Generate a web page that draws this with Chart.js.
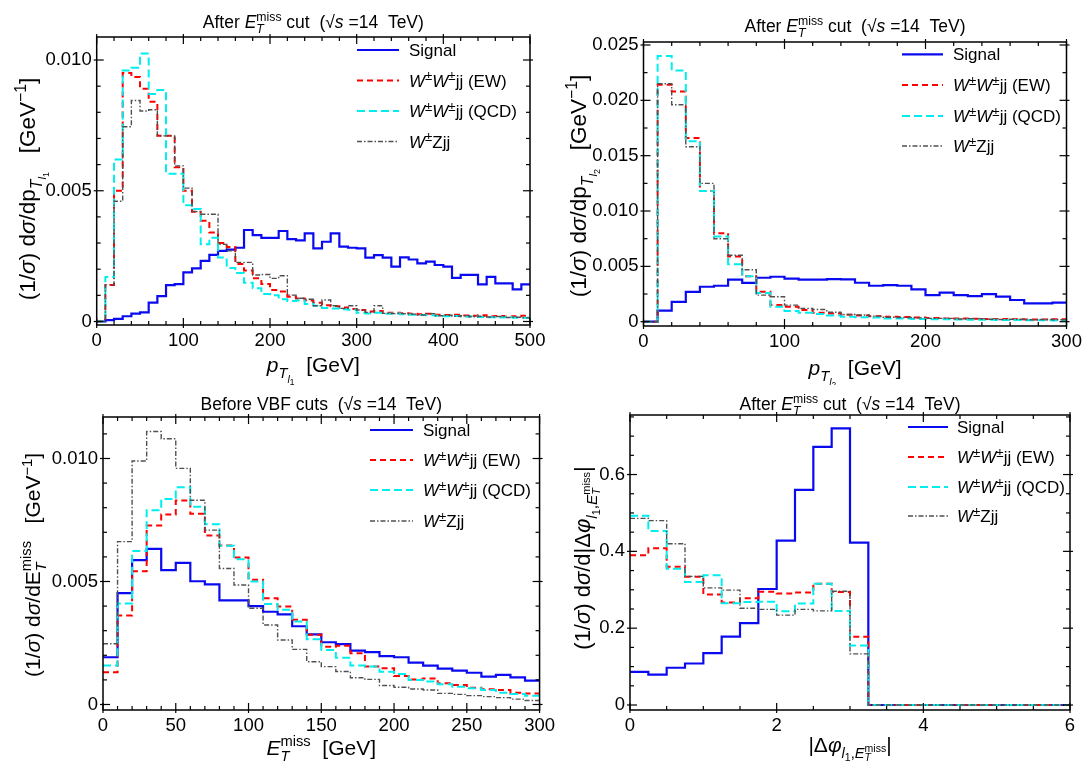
<!DOCTYPE html>
<html><head><meta charset="utf-8">
<script src="https://cdn.jsdelivr.net/npm/chart.js@4.4.1/dist/chart.umd.min.js"></script>
<style>
html,body{margin:0;padding:0;background:#fff;}
#wrap{position:relative;width:1089px;height:764px;overflow:hidden;background:#fff;}
canvas{position:absolute;}
</style></head><body>
<div id="wrap">
<canvas id="c1" width="560" height="385" style="left:0;top:0"></canvas>
<canvas id="c2" width="544" height="385" style="left:545px;top:0"></canvas>
<canvas id="c3" width="560" height="379" style="left:0;top:385px"></canvas>
<canvas id="c4" width="544" height="379" style="left:545px;top:385px"></canvas>
</div>
<script>
// ---------------- DATA ----------------
// Panel 1: p_T(l1), bins of 10 GeV from 0 to 500
const p1BinStart = 0, p1BinWidth = 10;
const p1Signal = [0,0.00005,0.0001,0.0002,0.0003,0.00035,0.00072,0.00097,0.00139,0.00143,
  0.00188,0.00203,0.00232,0.00255,0.0027,0.00275,0.00282,0.0035,0.0033,0.0032,
  0.0032,0.00346,0.00315,0.0031,0.00337,0.0028,0.00305,0.00337,0.00286,0.00282,
  0.0028,0.00244,0.00254,0.00244,0.0021,0.00245,0.00237,0.00222,0.00229,0.00216,
  0.0021,0.00167,0.00178,0.00178,0.00142,0.00171,0.00146,0.00146,0.00123,0.00142];
const p1EW = [0,0.0014,0.005,0.0095,0.00935,0.0089,0.0084,0.0071,0.0071,0.0059,
  0.005,0.0042,0.00385,0.0034,0.003,0.00285,0.0022,0.00195,0.00165,0.00143,
  0.0012,0.00115,0.00095,0.00088,0.0008,0.00072,0.00062,0.00058,0.00054,0.00048,
  0.00044,0.00038,0.0004,0.00033,0.00033,0.00032,0.0003,0.00028,0.0003,0.00026,
  0.00025,0.00026,0.00023,0.00022,0.00024,0.0002,0.00021,0.00019,0.0002,0.00022];
const p1QCD = [0,0.0017,0.0062,0.0096,0.0097,0.01025,0.0087,0.00885,0.00565,0.00565,
  0.00445,0.0043,0.00295,0.0032,0.00245,0.00205,0.00185,0.00148,0.00127,0.00105,
  0.001,0.00085,0.00078,0.0008,0.00067,0.0006,0.00052,0.0005,0.00047,0.00045,
  0.00033,0.00031,0.00033,0.0003,0.00031,0.00028,0.00026,0.00025,0.00024,0.00022,
  0.0002,0.00021,0.00018,0.0002,0.00017,0.00016,0.00015,0.00017,0.00014,0.00014];
const p1WZ = [0,0.0014,0.0046,0.00745,0.00845,0.00805,0.0081,0.0071,0.0071,0.00595,
  0.0051,0.0042,0.0041,0.0041,0.00295,0.0027,0.00226,0.00226,0.00178,0.0018,
  0.00165,0.00175,0.00101,0.00089,0.00085,0.0006,0.00082,0.0006,0.0005,0.0006,
  0.00044,0.00035,0.0006,0.00031,0.0003,0.0003,0.00028,0.00025,0.0003,0.00022,
  0.00024,0.0002,0.00022,0.00018,0.0002,0.00017,0.00019,0.00015,0.00016,0.00014];
const p1XTicks = [0,100,200,300,400,500];
const p1XLabels = ["0","100","200","300","400","500"];
const p1YTicks = [0,0.005,0.010];
const p1YLabels = ["0","0.005","0.010"];

// Panel 2: p_T(l2), bins of 10 GeV from 0 to 300
const p2BinStart = 0, p2BinWidth = 10;
const p2Signal = [0,0.001,0.0018,0.0027,0.00316,0.00325,0.0038,0.0035,0.00397,0.00406,
  0.0039,0.0038,0.0038,0.00385,0.00383,0.00352,0.00325,0.00331,0.00325,0.00292,
  0.00241,0.00262,0.00241,0.00232,0.0025,0.00226,0.00196,0.00166,0.00166,0.00172];
const p2EW = [0,0.0214,0.0208,0.0166,0.0118,0.008,0.0059,0.0041,0.0027,0.0015,
  0.00136,0.00105,0.0008,0.00075,0.00062,0.00055,0.0005,0.00045,0.00042,0.00038,
  0.00033,0.0003,0.0003,0.00027,0.00025,0.00024,0.00022,0.0002,0.0002,0.00022];
const p2QCD = [0,0.024,0.0227,0.0163,0.0118,0.0077,0.0052,0.0041,0.0026,0.00136,
  0.00096,0.0008,0.0007,0.00055,0.00045,0.0004,0.00038,0.0003,0.0003,0.00025,
  0.00022,0.00022,0.0002,0.00018,0.00018,0.00015,0.00015,0.00013,0.00014,0.00012];
const p2WZ = [0,0.0215,0.0196,0.0158,0.0125,0.0075,0.006,0.0047,0.0024,0.00226,
  0.0015,0.0012,0.0011,0.00085,0.00065,0.0006,0.0005,0.0004,0.00038,0.00035,
  0.0003,0.0003,0.00025,0.00028,0.00022,0.0002,0.00022,0.00018,0.0002,0.00017];
const p2XTicks = [0,100,200,300];
const p2XLabels = ["0","100","200","300"];
const p2YTicks = [0,0.005,0.010,0.015,0.020,0.025];
const p2YLabels = ["0","0.005","0.010","0.015","0.020","0.025"];

// Panel 3: E_T^miss before VBF cuts, bins of 10 GeV from 0 to 300
const p3BinStart = 0, p3BinWidth = 10;
const p3Signal = [0.00192,0.00453,0.00587,0.00633,0.00546,0.00576,0.00501,0.00488,0.00423,0.00423,
  0.004,0.00377,0.00366,0.00318,0.00285,0.00253,0.00245,0.00219,0.00213,0.00197,
  0.00192,0.0017,0.00158,0.00146,0.00138,0.00129,0.00113,0.0012,0.0011,0.00097];
const p3EW = [0.00131,0.00362,0.00542,0.00728,0.00772,0.00829,0.00775,0.00687,0.00646,0.00598,
  0.00507,0.00432,0.00398,0.00344,0.00283,0.00235,0.00239,0.00208,0.00154,0.00147,
  0.00116,0.00102,0.00106,0.00086,0.00079,0.00068,0.00062,0.00059,0.00048,0.00045];
const p3QCD = [0.00158,0.00411,0.00624,0.0079,0.00835,0.00883,0.00804,0.00733,0.00645,0.0059,
  0.005,0.00409,0.00385,0.00337,0.00265,0.00222,0.0019,0.00158,0.00154,0.00133,
  0.00124,0.001,0.00093,0.00082,0.00072,0.00066,0.00059,0.00048,0.00043,0.00036];
const p3WZ = [0.00247,0.00662,0.0099,0.0111,0.0108,0.0096,0.0083,0.00709,0.00553,0.00486,
  0.00391,0.00323,0.00262,0.00224,0.00174,0.00154,0.00134,0.00109,0.00102,0.00077,
  0.0007,0.00063,0.00059,0.00045,0.00041,0.00036,0.00032,0.00028,0.00022,0.00016];
const p3XTicks = [0,50,100,150,200,250,300];
const p3XLabels = ["0","50","100","150","200","250","300"];
const p3YTicks = [0,0.005,0.010];
const p3YLabels = ["0","0.005","0.010"];

// Panel 4: |delta phi|, bins of 0.25 from 0 to 6
const p4BinStart = 0, p4BinWidth = 0.25;
const p4Signal = [0.086,0.079,0.097,0.108,0.135,0.178,0.213,0.302,0.428,0.56,0.672,0.72,0.423,
  0,0,0,0,0,0,0,0,0,0,0];
const p4EW = [0.39,0.408,0.36,0.334,0.288,0.267,0.278,0.295,0.29,0.293,0.316,0.294,0.178,
  0,0,0,0,0,0,0,0,0,0,0];
const p4QCD = [0.493,0.453,0.355,0.32,0.338,0.265,0.268,0.269,0.244,0.264,0.316,0.245,0.155,
  0,0,0,0,0,0,0,0,0,0,0];
const p4WZ = [0.486,0.48,0.42,0.335,0.305,0.299,0.252,0.249,0.234,0.249,0.245,0.296,0.133,
  0,0,0,0,0,0,0,0,0,0,0];
const p4XTicks = [0,2,4,6];
const p4XLabels = ["0","2","4","6"];
const p4YTicks = [0,0.2,0.4,0.6];
const p4YLabels = ["0","0.2","0.4","0.6"];

const seriesNames = ["Signal","W±W±jj (EW)","W±W±jj (QCD)","W±Zjj"];

// ---------------- STYLE / HELPERS ----------------
const FONT = '"Liberation Sans", Arial, Helvetica, sans-serif';
const STY = [
  {color:'#0a0af0', w:2.2, dash:[], order:4},
  {color:'#ff0000', w:2, dash:[6,4], order:3},
  {color:'#00eeee', w:2, dash:[8,4], order:2},
  {color:'#505050', w:1.4, dash:[5,2,1.5,2], order:1}
];

function stepPoints(start, width, vals){
  const pts = vals.map((v,i)=>({x:start+i*width, y:v}));
  pts.push({x:start+vals.length*width, y:vals[vals.length-1]});
  return pts;
}

function richLayout(ctx, segs, size){
  let x=0, prevStart=0, prevEnd=0; const items=[];
  for(const g of segs){
    const fs = size*(g.s||1);
    const font = (g.i?'italic ':'')+fs+'px '+FONT;
    ctx.font = font;
    const w = ctx.measureText(g.t).width;
    const sx = g.back ? prevStart : x;
    items.push({t:g.t, font, x:sx, dy:(g.dy||0)*size});
    const end = sx + w + (g.pad||0)*size;
    x = g.back ? Math.max(prevEnd,end) : end;
    prevStart = sx; prevEnd = end;
  }
  return {items, width:x};
}
function drawRich(ctx, segs, x, y, size, align, rotate){
  const L = richLayout(ctx, segs, size);
  ctx.save();
  ctx.translate(x,y);
  if(rotate) ctx.rotate(-Math.PI/2);
  const x0 = align==='center' ? -L.width/2 : (align==='right' ? -L.width : 0);
  ctx.fillStyle='#000'; ctx.textBaseline='alphabetic'; ctx.textAlign='left';
  for(const it of L.items){ ctx.font = it.font; ctx.fillText(it.t, x0+it.x, it.dy); }
  ctx.restore();
}

// rich text pieces
const ETmiss = [{t:'E',i:1},{t:'T',i:1,s:.7,dy:.3},{t:'miss',s:.7,dy:-.42,back:1}];
const titleAfter = [{t:'After '},...ETmiss,{t:' cut  ('},{t:'√'},{t:'s',i:1},{t:' =14  TeV)'}];
const titleBefore = [{t:'Before VBF cuts  ('},{t:'√'},{t:'s',i:1},{t:' =14  TeV)'}];
const sig = [{t:'(1/'},{t:'σ',i:1},{t:') d'},{t:'σ',i:1},{t:'/d'}];
const gev1 = [{t:'   [GeV'},{t:'−1',s:.7,dy:-.4},{t:']'}];
const dphi = [{t:'|Δ'},{t:'φ',i:1},{t:'l',i:1,s:.7,dy:.3},{t:'1',s:.5,dy:.45},{t:',',s:.7,dy:.3},
  {t:'E',i:1,s:.7,dy:.3},{t:'T',i:1,s:.5,dy:.45},{t:'miss',s:.5,dy:-.02,back:1},{t:'|'}];
const pT = n => [{t:'p',i:1},{t:'T',i:1,s:.7,dy:.3},{t:'l',i:1,s:.5,dy:.5},{t:String(n),s:.4,dy:.6}];
const pm = {t:'±',s:.78,dy:-.36};
const legendSegs = [
  [{t:'Signal'}],
  [{t:'W',i:1},pm,{t:'W',i:1},pm,{t:'jj (EW)'}],
  [{t:'W',i:1},pm,{t:'W',i:1},pm,{t:'jj (QCD)'}],
  [{t:'W',i:1},pm,{t:'Zjj'}]
];

function makePanel(P){
  const canvas = document.getElementById(P.id);
  const cw = canvas.width, ch = canvas.height;
  const A = {l:P.area[0]-P.off[0], t:P.area[1]-P.off[1], r:P.area[2]-P.off[0], b:P.area[3]-P.off[1]};
  const datasets = P.series.map((vals,k)=>({
    label: seriesNames[k],
    data: stepPoints(P.binStart, P.binWidth, vals),
    borderColor: STY[k].color, borderWidth: STY[k].w, borderDash: STY[k].dash,
    order: STY[k].order, stepped:'before', pointRadius:0, fill:false, tension:0
  }));
  const deco = {
    id:'deco_'+P.id,
    afterDraw(chart){
      const {ctx, chartArea:a, scales:{x,y}} = chart;
      ctx.save();
      ctx.setLineDash([]);
      ctx.strokeStyle='#000';
      ctx.lineWidth=1.5;
      ctx.strokeRect(a.left, a.top, a.right-a.left, a.bottom-a.top);
      ctx.lineWidth=1.2;
      const ln=(x1,y1,x2,y2)=>{ctx.beginPath();ctx.moveTo(x1,y1);ctx.lineTo(x2,y2);ctx.stroke();};
      const isMajor=(v,arr)=>arr.some(m=>Math.abs(m-v)<1e-9);
      for(let i=0;;i++){
        const v = P.xMin + i*P.xMinor; if(v>P.xMax+1e-9) break;
        const px = x.getPixelForValue(v);
        if(isMajor(v,P.xTicks)){ ln(px,a.bottom+3,px,a.bottom-7); ln(px,a.top-3,px,a.top+7); }
        else { ln(px,a.bottom,px,a.bottom-4); ln(px,a.top,px,a.top+4); }
      }
      for(let i=0;;i++){
        const v = i*P.yMinor; if(v>y.max+1e-12) break;
        const py = y.getPixelForValue(v);
        if(isMajor(v,P.yTicks)){ ln(a.left-3,py,a.left+7,py); ln(a.right+3,py,a.right-7,py); }
        else { ln(a.left,py,a.left+4,py); ln(a.right,py,a.right-4,py); }
      }
      // titles
      drawRich(ctx, P.title, (a.left+a.right)/2, P.titleY-P.off[1], 17.5, 'center');
      drawRich(ctx, P.xTitle, (a.left+a.right)/2, P.xTitleY-P.off[1], 21, 'center');
      drawRich(ctx, P.yTitle, P.yTitleX-P.off[0], P.yTitleC-P.off[1], P.yTitleSize, 'center', true);
      // legend
      const L = P.legend;
      for(let k=0;k<4;k++){
        const ry = L.rows[k]-P.off[1];
        ctx.strokeStyle = STY[k].color; ctx.lineWidth = STY[k].w; ctx.setLineDash(STY[k].dash);
        ln(L.x1-P.off[0], ry, L.x2-P.off[0], ry);
        ctx.setLineDash([]);
        drawRich(ctx, legendSegs[k], L.tx-P.off[0], ry+6, 17, 'left');
      }
      ctx.restore();
    }
  };
  return new Chart(canvas, {
    type:'line',
    data:{datasets},
    options:{
      responsive:false, animation:false, devicePixelRatio:1,
      layout:{padding:{left:0, top:A.t, right:cw-A.r, bottom:0}},
      plugins:{legend:{display:false}, tooltip:{enabled:false}, title:{display:false}},
      scales:{
        x:{type:'linear', min:P.xMin, max:P.xMax,
          grid:{display:false, drawTicks:false}, border:{display:false},
          ticks:{padding:5, color:'#000', font:{family:FONT, size:18.5}, maxRotation:0, autoSkip:false,
            callback:(v,i)=>P.xLabels[i]},
          afterBuildTicks:s=>{ s.ticks = P.xTicks.map(v=>({value:v})); },
          afterFit:s=>{ s.height = ch-A.b; }
        },
        y:{type:'linear', min:P.yMin, max:P.yMax,
          grid:{display:false, drawTicks:false}, border:{display:false},
          ticks:{padding:5, color:'#000', font:{family:FONT, size:18.5}, autoSkip:false,
            callback:(v,i)=>P.yLabels[i]},
          afterBuildTicks:s=>{ s.ticks = P.yTicks.map(v=>({value:v})); },
          afterFit:s=>{ s.width = A.l; }
        }
      }
    },
    plugins:[deco]
  });
}

makePanel({id:'c1', off:[0,0], area:[96.7,37,530,325],
  xMin:0, xMax:500, yMin:-0.000134, yMax:0.01088, xMinor:20, yMinor:0.001,
  binStart:p1BinStart, binWidth:p1BinWidth, series:[p1Signal,p1EW,p1QCD,p1WZ],
  xTicks:p1XTicks, xLabels:p1XLabels, yTicks:p1YTicks, yLabels:p1YLabels,
  title:titleAfter, titleY:28, xTitle:[...pT(1),{t:'  [GeV]'}], xTitleY:372,
  yTitle:[...sig,{t:'p'},{t:'T',i:1,s:.7,dy:.3},{t:'l',i:1,s:.5,dy:.5},{t:'1',s:.4,dy:.6},...gev1],
  yTitleX:35, yTitleC:189, yTitleSize:22.5,
  legend:{x1:357, x2:399, tx:409, rows:[50,80.5,111,141.5]}});

makePanel({id:'c2', off:[545,0], area:[643.5,42,1066.5,326],
  xMin:0, xMax:300, yMin:-0.000388, yMax:0.02527, xMinor:20, yMinor:0.0025,
  binStart:p2BinStart, binWidth:p2BinWidth, series:[p2Signal,p2EW,p2QCD,p2WZ],
  xTicks:p2XTicks, xLabels:p2XLabels, yTicks:p2YTicks, yLabels:p2YLabels,
  title:titleAfter, titleY:32, xTitle:[...pT(2),{t:'  [GeV]'}], xTitleY:375,
  yTitle:[...sig,{t:'p'},{t:'T',i:1,s:.7,dy:.3},{t:'l',i:1,s:.5,dy:.5},{t:'2',s:.4,dy:.6},...gev1],
  yTitleX:586, yTitleC:186, yTitleSize:22.5,
  legend:{x1:902, x2:943, tx:953, rows:[54.3,85,116,146]}});

makePanel({id:'c3', off:[0,385], area:[103,417,542,710],
  xMin:0, xMax:300, yMin:-0.000224, yMax:0.011687, xMinor:10, yMinor:0.001,
  binStart:p3BinStart, binWidth:p3BinWidth, series:[p3Signal,p3EW,p3QCD,p3WZ],
  xTicks:p3XTicks, xLabels:p3XLabels, yTicks:p3YTicks, yLabels:p3YLabels,
  title:titleBefore, titleY:410, xTitle:[...ETmiss,{t:'  [GeV]'}], xTitleY:755,
  yTitle:[...sig,{t:'E'},{t:'T',i:1,s:.7,dy:.3},{t:'miss',s:.7,dy:-.42,back:1},...gev1],
  yTitleX:40, yTitleC:565, yTitleSize:21,
  legend:{x1:370, x2:413, tx:423, rows:[430,460,490,521]}});

makePanel({id:'c4', off:[545,385], area:[630,415,1070,710],
  xMin:0, xMax:6, yMin:-0.013, yMax:0.755, xMinor:0.5, yMinor:0.05,
  binStart:p4BinStart, binWidth:p4BinWidth, series:[p4Signal,p4EW,p4QCD,p4WZ],
  xTicks:p4XTicks, xLabels:p4XLabels, yTicks:p4YTicks, yLabels:p4YLabels,
  title:titleAfter, titleY:410, xTitle:dphi, xTitleY:752,
  yTitle:[...sig,...dphi], yTitleX:590, yTitleC:558, yTitleSize:22,
  legend:{x1:908, x2:948, tx:957, rows:[427,457,487,516]}});
</script>
</body></html>
